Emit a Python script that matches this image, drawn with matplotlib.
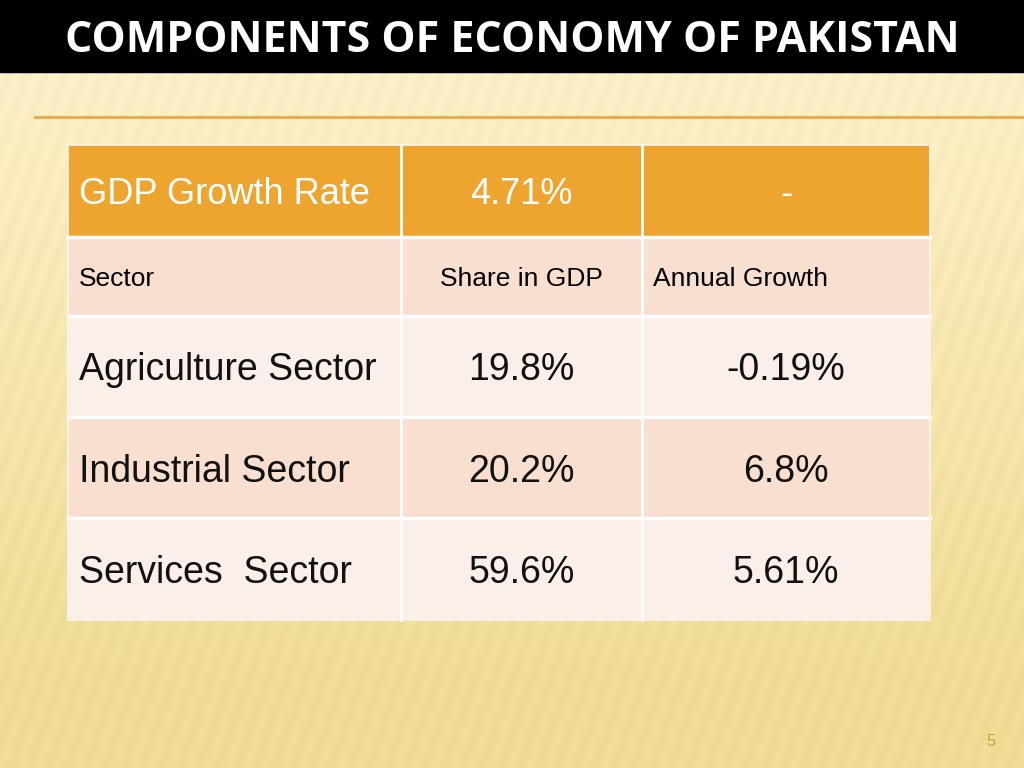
import matplotlib.pyplot as plt
import numpy as np
from matplotlib.patches import Rectangle

title = "COMPONENTS OF ECONOMY OF PAKISTAN"
header = ["GDP Growth Rate", "4.71%", "-"]
columns = ["Sector", "Share in GDP", "Annual Growth"]
sectors = ["Agriculture Sector", "Industrial Sector", "Services  Sector"]
share_gdp = ["19.8%", "20.2%", "59.6%"]
annual_growth = ["-0.19%", "6.8%", "5.61%"]
page_no = "5"

W, H = 1024, 768
fig = plt.figure(figsize=(W / 100, H / 100), dpi=100)
ax = fig.add_axes([0, 0, 1, 1])
ax.set_xlim(0, W)
ax.set_ylim(H, 0)
ax.axis("off")

# background: cream at top, warmer yellow lower down, faint diagonal streaks
top = np.array([252, 240, 200]) / 255
bot = np.array([240, 220, 148]) / 255
yy, xx = np.mgrid[0:H // 2, 0:W // 2] * 2.0
t = np.clip((yy - 60) / 620, 0, 1)[..., None]
bg = top * (1 - t) + bot * t
streak = 0.010 * np.sin((xx + 0.35 * yy) / 3.0)[..., None]
bg = np.clip(bg + streak, 0, 1)
ax.imshow(bg, extent=[0, W, H, 0], aspect="auto", zorder=0)

# title bar
ax.add_patch(Rectangle((0, 0), W, 72, color="black", zorder=1))
ax.text(W / 2, 41, title, color="white", fontsize=31, fontweight="bold",
        family="Open Sans", ha="center", va="center", zorder=2)
ax.plot([35, W], [117, 117], color="#e6ad55", lw=2.2, zorder=1)

# table layout
cols = [68, 401, 642, 930]
rows = [145, 237, 316, 417, 518, 620]
fills = ["#eea530", "#f8dfcf", "#fbefe9", "#f8dfcf", "#fbefe9"]
for i in range(5):
    for j in range(3):
        ax.add_patch(Rectangle((cols[j], rows[i]), cols[j + 1] - cols[j], rows[i + 1] - rows[i],
                               facecolor=fills[i], edgecolor="none", zorder=3))
for x in cols[1:-1]:
    ax.plot([x, x], [rows[0], rows[-1]], color="white", lw=2, zorder=3.5)
for y in rows[1:-1]:
    ax.plot([cols[0], cols[-1]], [y, y], color="white", lw=2.5, zorder=3.5)
ax.add_patch(Rectangle((cols[0], rows[0]), cols[-1] - cols[0], rows[-1] - rows[0],
                       facecolor="none", edgecolor="#fdf6ea", lw=1.2, zorder=3.6))

def cy(i):
    return (rows[i] + rows[i + 1]) / 2

def cx(j):
    return (cols[j] + cols[j + 1]) / 2

font = "Liberation Sans"
# header row
ax.text(79, cy(0) + 3, header[0], color="white", fontsize=26, family=font, va="center", zorder=4)
ax.text(cx(1), cy(0) + 3, header[1], color="white", fontsize=26, family=font, ha="center", va="center", zorder=4)
ax.text(cx(2), cy(0) + 3, header[2], color="white", fontsize=26, family=font, ha="center", va="center", zorder=4)

# column labels
ax.text(79, cy(1) + 3, columns[0], color="black", fontsize=19, family=font, va="center", zorder=4)
ax.text(cx(1), cy(1) + 3, columns[1], color="black", fontsize=19, family=font, ha="center", va="center", zorder=4)
ax.text(653, cy(1) + 3, columns[2], color="black", fontsize=19, family=font, va="center", zorder=4)

# sector rows
for k in range(3):
    i = k + 2
    ax.text(79, cy(i) + 4, sectors[k], color="#111111", fontsize=27, family=font, va="center", zorder=4)
    ax.text(cx(1), cy(i) + 4, share_gdp[k], color="#111111", fontsize=27, family=font, ha="center", va="center", zorder=4)
    ax.text(cx(2), cy(i) + 4, annual_growth[k], color="#111111", fontsize=27, family=font, ha="center", va="center", zorder=4)

ax.text(991, 741, page_no, color="#c9a13f", fontsize=12, family=font, ha="center", va="center", zorder=4)

fig.savefig("out.png", dpi=100)
